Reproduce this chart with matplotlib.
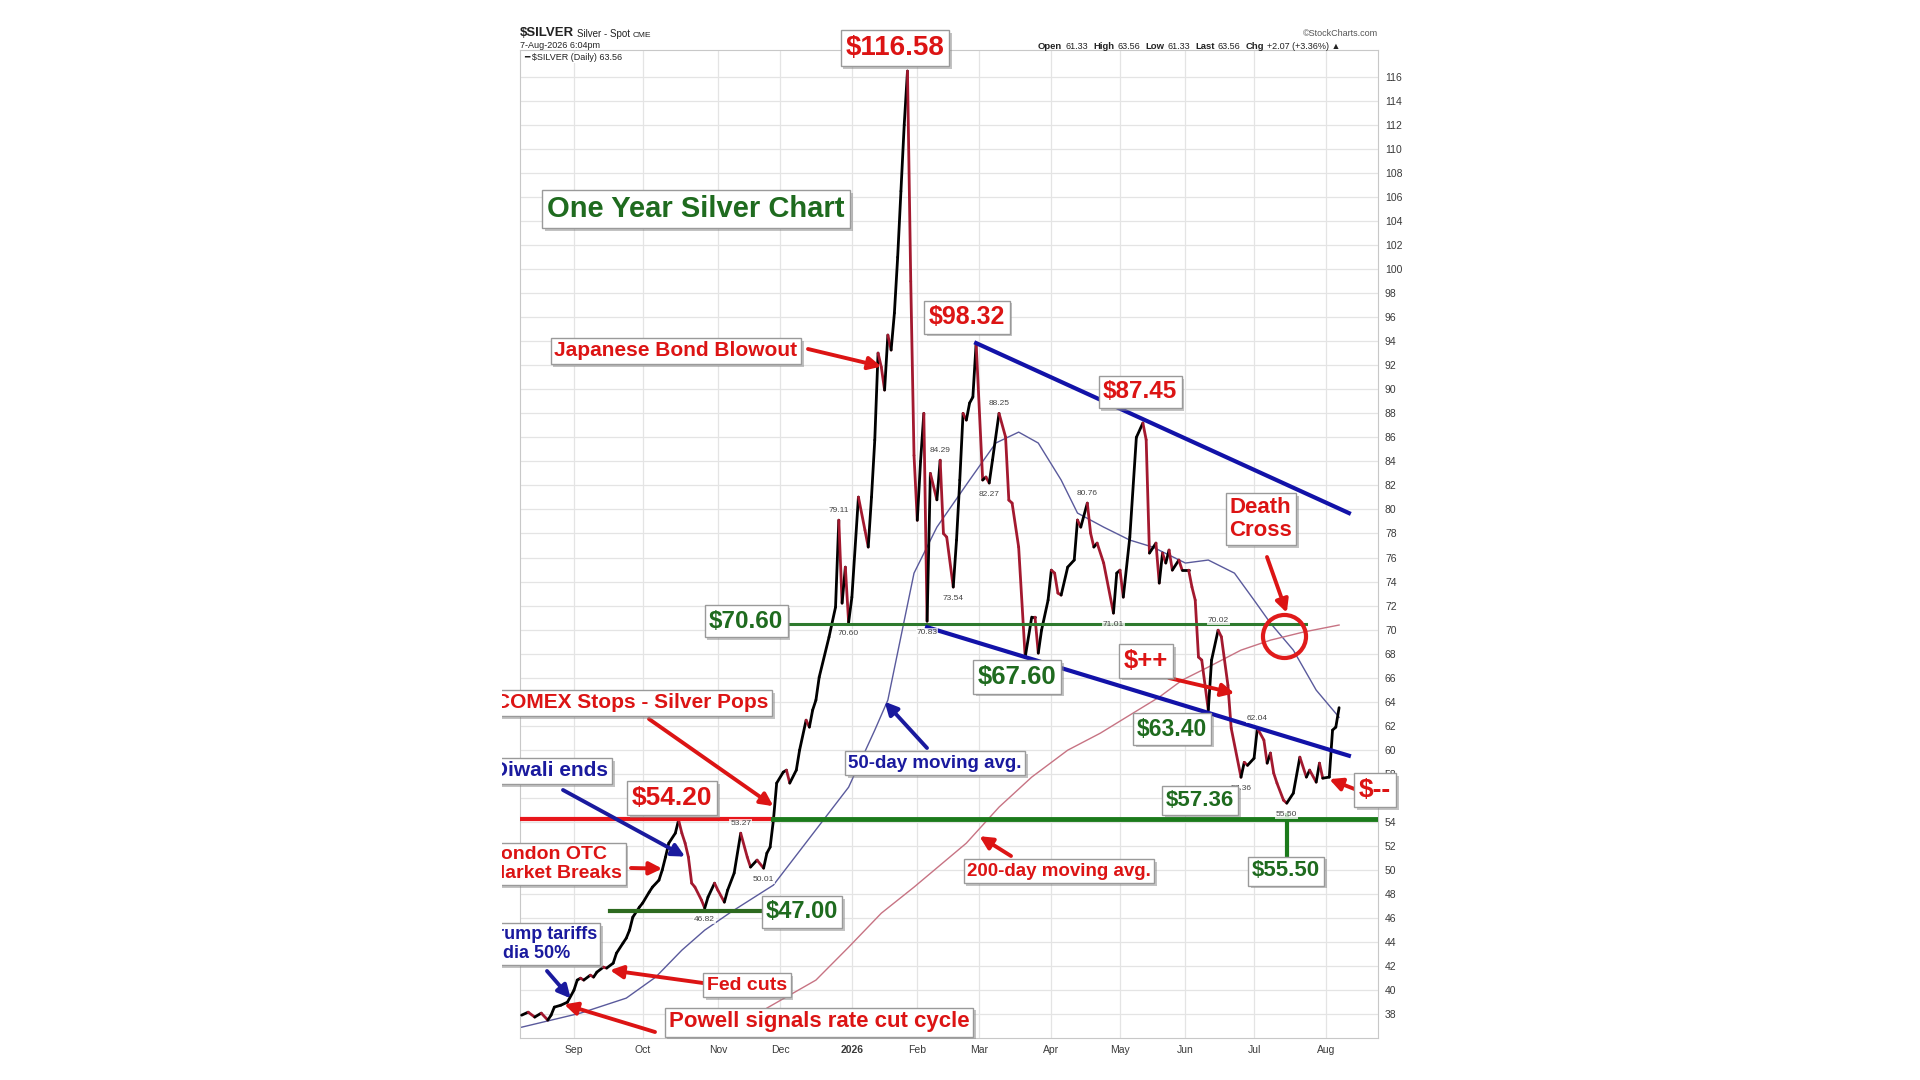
import numpy as np
import pandas as pd
import matplotlib
matplotlib.use("Agg")
import matplotlib.pyplot as plt
import matplotlib.patheffects as pe
from matplotlib.collections import LineCollection
from matplotlib.transforms import Bbox, TransformedBbox

plt.rcParams['font.family'] = ['Liberation Sans', 'DejaVu Sans']
plt.rcParams['text.parse_math'] = False

# trading calendar (exchange holidays skipped, like StockCharts)
holidays = ["2025-09-01", "2025-11-27", "2025-12-25", "2026-01-01", "2026-01-19",
            "2026-02-16", "2026-04-03", "2026-05-25", "2026-06-19", "2026-07-03"]
cal = pd.bdate_range("2025-08-08", "2026-08-31", freq="C", holidays=holidays)

month_firsts = ["2025-09-02", "2025-10-01", "2025-11-03", "2025-12-01", "2026-01-02", "2026-02-02",
                "2026-03-02", "2026-04-01", "2026-05-01", "2026-06-01", "2026-07-01", "2026-08-03"]
month_labels = ["Sep", "Oct", "Nov", "Dec", "2026", "Feb", "Mar", "Apr", "May", "Jun", "Jul", "Aug"]
y_ticks = list(range(38, 118, 2))

# daily close
price_dates = [
    "2025-08-08", "2025-08-12", "2025-08-14", "2025-08-18", "2025-08-20", "2025-08-21", "2025-08-22",
    "2025-08-26", "2025-08-28", "2025-09-02", "2025-09-03", "2025-09-04", "2025-09-05", "2025-09-09",
    "2025-09-10", "2025-09-11", "2025-09-15", "2025-09-16", "2025-09-18", "2025-09-19", "2025-09-23",
    "2025-09-24", "2025-09-25", "2025-09-26", "2025-09-30", "2025-10-01", "2025-10-03", "2025-10-06",
    "2025-10-08", "2025-10-09", "2025-10-10", "2025-10-13", "2025-10-15", "2025-10-16", "2025-10-17",
    "2025-10-20", "2025-10-21", "2025-10-22", "2025-10-23", "2025-10-27", "2025-10-28", "2025-10-29",
    "2025-10-31", "2025-11-03", "2025-11-05", "2025-11-06", "2025-11-10", "2025-11-12", "2025-11-14",
    "2025-11-17", "2025-11-19", "2025-11-21", "2025-11-24", "2025-11-25", "2025-11-26", "2025-11-28",
    "2025-12-02", "2025-12-03", "2025-12-04", "2025-12-08", "2025-12-09", "2025-12-11", "2025-12-12",
    "2025-12-15", "2025-12-16", "2025-12-17", "2025-12-22", "2025-12-24", "2025-12-26", "2025-12-29",
    "2025-12-30", "2025-12-31", "2026-01-02", "2026-01-06", "2026-01-08", "2026-01-09", "2026-01-12",
    "2026-01-13", "2026-01-14", "2026-01-15", "2026-01-16", "2026-01-20", "2026-01-21", "2026-01-22",
    "2026-01-23", "2026-01-26", "2026-01-27", "2026-01-28", "2026-01-29", "2026-01-30", "2026-02-02",
    "2026-02-03", "2026-02-04", "2026-02-05", "2026-02-06", "2026-02-10", "2026-02-11", "2026-02-12",
    "2026-02-13", "2026-02-18", "2026-02-19", "2026-02-20", "2026-02-23", "2026-02-24", "2026-02-25",
    "2026-02-26", "2026-02-27", "2026-03-03", "2026-03-04", "2026-03-05", "2026-03-06", "2026-03-10",
    "2026-03-12", "2026-03-13", "2026-03-16", "2026-03-18", "2026-03-20", "2026-03-24", "2026-03-25",
    "2026-03-26", "2026-03-27", "2026-03-31", "2026-04-01", "2026-04-02", "2026-04-06", "2026-04-07",
    "2026-04-09", "2026-04-13", "2026-04-14", "2026-04-15", "2026-04-17", "2026-04-20", "2026-04-21",
    "2026-04-22", "2026-04-24", "2026-04-29", "2026-04-30", "2026-05-01", "2026-05-04", "2026-05-06",
    "2026-05-08", "2026-05-12", "2026-05-13", "2026-05-14", "2026-05-18", "2026-05-19", "2026-05-20",
    "2026-05-21", "2026-05-22", "2026-05-26", "2026-05-28", "2026-05-29", "2026-06-02", "2026-06-03",
    "2026-06-04", "2026-06-05", "2026-06-08", "2026-06-10", "2026-06-11", "2026-06-15", "2026-06-16",
    "2026-06-18", "2026-06-22", "2026-06-25", "2026-06-26", "2026-06-29", "2026-07-01", "2026-07-02",
    "2026-07-07", "2026-07-08", "2026-07-09", "2026-07-10", "2026-07-13", "2026-07-15", "2026-07-16",
    "2026-07-20", "2026-07-22", "2026-07-24", "2026-07-27", "2026-07-29", "2026-07-30", "2026-07-31",
    "2026-08-04", "2026-08-05", "2026-08-06", "2026-08-07"]
price_vals = [
    37.9, 38.15, 37.74, 38.07, 37.49, 37.9, 38.57,
    38.73, 38.98, 39.98, 40.82, 40.98, 40.82, 41.23,
    41.07, 41.48, 41.9, 41.82, 42.23, 43.06, 43.9,
    44.31, 44.98, 46.06, 46.89, 47.23, 48.14, 48.56,
    49.14, 49.98, 51.06, 52.22, 53.05, 54.14, 53.05,
    52.22, 51.06, 48.89, 48.56, 47.48, 46.81, 47.73,
    48.89, 48.31, 47.31, 48.31, 49.73, 53.05, 51.06,
    50.23, 50.81, 50.14, 51.39, 51.89, 54.14, 57.22,
    58.13, 58.3, 57.22, 58.3, 59.96, 62.46, 61.88,
    63.3, 64.13, 66.04, 69.37, 71.87, 79.11, 72.2,
    75.2, 70.6, 72.7, 81.03, 78.28, 76.87, 81.03,
    85.78, 93.02, 91.85, 89.94, 94.52, 93.27, 96.35,
    101.0, 106.5, 112.0, 116.5, 99.0, 84.5, 79.1,
    84.0, 88.0, 70.7, 83.0, 80.8, 84.1, 78.0,
    77.7, 73.54, 77.45, 82.45, 88.0, 87.44, 88.86,
    89.36, 93.85, 82.45, 82.7, 82.2, 84.11, 88.0,
    86.03, 80.78, 80.53, 76.87, 67.7, 71.04, 71.04,
    68.04, 69.95, 72.45, 74.95, 74.7, 73.04, 72.87,
    75.2, 75.79, 79.12, 78.53, 80.53, 78.03, 76.87,
    77.2, 75.54, 71.37, 74.7, 74.95, 72.7, 77.7,
    86.0, 87.2, 85.8, 76.37, 77.2, 73.87, 76.37,
    75.54, 76.62, 74.95, 75.79, 74.95, 74.95, 73.54,
    72.45, 67.71, 67.46, 63.3, 67.46, 69.95, 69.4,
    65.37, 61.8, 57.71, 58.95, 58.7, 59.29, 61.79,
    60.8, 58.88, 59.72, 58.05, 57.22, 55.8, 55.55,
    56.38, 59.38, 57.72, 58.3, 57.3, 58.88, 57.63,
    57.72, 61.63, 61.88, 63.5]

ma50_dates = ["2025-08-08", "2025-09-04", "2025-09-24", "2025-10-07", "2025-10-17", "2025-10-28",
              "2025-11-07", "2025-11-26", "2025-12-31", "2026-01-13", "2026-01-20", "2026-01-30",
              "2026-02-10", "2026-02-25", "2026-03-09", "2026-03-18", "2026-03-26", "2026-04-07",
              "2026-04-14", "2026-04-24", "2026-05-06", "2026-05-15", "2026-06-01", "2026-06-10",
              "2026-06-23", "2026-07-01", "2026-07-09", "2026-07-20", "2026-07-29", "2026-08-07"]
ma50_vals = [36.9, 38.07, 39.32, 41.07, 43.31, 44.98,
             46.48, 48.73, 56.88, 61.63, 64.13, 74.7,
             78.53, 82.45, 85.53, 86.44, 85.53, 82.45,
             79.7, 78.53, 77.45, 76.87, 75.54, 75.79,
             74.7, 72.45, 70.54, 68.29, 64.96, 62.7]

ma200_dates = ["2025-11-10", "2025-11-24", "2025-12-16", "2025-12-31", "2026-01-15", "2026-01-30",
               "2026-02-24", "2026-03-10", "2026-03-24", "2026-04-09", "2026-04-23", "2026-05-07",
               "2026-05-19", "2026-05-29", "2026-06-10", "2026-06-25", "2026-07-09", "2026-07-23",
               "2026-08-07"]
ma200_vals = [35.9, 38.49, 40.82, 43.56, 46.39, 48.56,
              52.22, 55.22, 57.72, 59.96, 61.38, 63.05,
              64.38, 65.79, 66.88, 68.29, 69.12, 69.79,
              70.38]

# drawn lines
red_54_dates, red_54_vals = ["2025-08-08", "2025-11-26"], [54.2, 54.2]
green_54_dates, green_54_vals = ["2025-11-26", "2026-08-25"], [54.2, 54.2]
green_70_dates, green_70_vals = ["2025-12-04", "2026-07-24"], [70.5, 70.5]
green_47_dates, green_47_vals = ["2025-09-17", "2025-11-20"], [46.6, 46.6]
upper_dates, upper_vals = ["2026-02-27", "2026-08-12"], [93.85, 79.7]
lower_dates, lower_vals = ["2026-02-05", "2026-08-12"], [70.2, 59.5]
low_stem_dates, low_stem_vals = ["2026-07-16", "2026-07-16"], [54.6, 51.0]
cross_date, cross_val = "2026-07-15", 69.45

# small peak / trough labels
small_dates = ["2025-10-28", "2025-11-21", "2025-11-12", "2025-12-26", "2025-12-31", "2026-02-05",
               "2026-02-11", "2026-02-18", "2026-03-05", "2026-03-10", "2026-04-17", "2026-04-29",
               "2026-06-15", "2026-07-02", "2026-07-16", "2026-06-25"]
small_vals = [46.81, 50.14, 53.05, 79.11, 70.6, 70.7,
              84.1, 73.54, 82.2, 88.0, 80.53, 71.37,
              69.95, 61.79, 55.55, 57.71]
small_text = ["46.82", "50.01", "53.27", "79.11", "70.60", "70.83",
              "84.29", "73.54", "82.27", "88.25", "80.76", "71.01",
              "70.02", "62.04", "55.50", "57.36"]
small_above = [False, False, True, True, False, False,
               True, False, False, True, True, False,
               True, True, False, False]


def tday(dates):
    d = pd.to_datetime(pd.Index(np.atleast_1d(dates)))
    return np.searchsorted(cal.values, d.values)


RED = '#dc1414'
GREEN = '#1f6b1f'
BLUE = '#1a1a9e'

fig = plt.figure(figsize=(19.2, 10.8), dpi=100)
ax = fig.add_axes([520 / 1920, 1 - 1038 / 1080, 858 / 1920, 988 / 1080])
ax.set_xlim(-0.5, 261.9)
ax.set_ylim(36, 118.25)

ax.set_yticks(y_ticks)
ax.set_xticks(tday(month_firsts))
ax.set_xticklabels(month_labels)
ax.get_xticklabels()[4].set_fontweight('bold')
ax.yaxis.tick_right()
ax.tick_params(axis='y', length=0, pad=5, labelsize=7.5, labelcolor='#3a3a3a')
ax.tick_params(axis='x', length=0, pad=5, labelsize=7.5, labelcolor='#3a3a3a')
ax.grid(True, color='#e4e4e4', lw=0.9)
ax.set_axisbelow(True)
for s in ax.spines.values():
    s.set_color('#c8c8c8')
    s.set_linewidth(0.8)

# moving averages
ax.plot(tday(ma50_dates), ma50_vals, color='#5a5a9c', lw=1.0, zorder=2)
ax.plot(tday(ma200_dates), ma200_vals, color='#c77383', lw=1.0, zorder=2)

# price line: black on up days, maroon on down days
px = tday(price_dates)
py = np.array(price_vals)
segs = np.stack([np.column_stack([px[:-1], py[:-1]]), np.column_stack([px[1:], py[1:]])], axis=1)
seg_colors = np.where(np.diff(py) >= 0, '#000000', '#a3192f')
ax.add_collection(LineCollection(segs, colors=seg_colors, linewidths=2.0, capstyle='round', zorder=3))

# horizontal levels and trend lines
ax.plot(tday(red_54_dates), red_54_vals, color='#e8161b', lw=3, zorder=4)
ax.plot(tday(green_54_dates), green_54_vals, color='#1b7a1b', lw=3.5, zorder=4)
ax.plot(tday(green_70_dates), green_70_vals, color='#2e7a2e', lw=2.2, zorder=4)
ax.plot(tday(green_47_dates), green_47_vals, color='#2d6a1f', lw=3, zorder=4)
ax.plot(tday(upper_dates), upper_vals, color='#1212a8', lw=3, zorder=4)
ax.plot(tday(lower_dates), lower_vals, color='#1212a8', lw=3, zorder=4)
ax.plot(tday(low_stem_dates), low_stem_vals, color='#1b7a1b', lw=3, zorder=4)
ax.plot(tday(cross_date), [cross_val], marker='o', ms=31, mfc='none', mec='#e01b1b', mew=3, zorder=6)

for d, v, t, up in zip(small_dates, small_vals, small_text, small_above):
    ax.annotate(t, xy=(tday(d)[0], v), xytext=(0, 7 if up else -8), textcoords='offset points',
                ha='center', va='center', fontsize=6, color='#444444', zorder=5,
                bbox=dict(boxstyle='square,pad=0.1', fc='white', ec='none', alpha=0.75))

clip_bb = TransformedBbox(Bbox([[502 / 1920, 0], [1, 1]]), fig.transFigure)


def box(x, y, text, color, size, ha='center', clip=False, ma='center'):
    t = fig.text(x / 1920, 1 - y / 1080, text, color=color, fontsize=size, fontweight='bold',
                 ha=ha, va='center', multialignment=ma, linespacing=1.1, zorder=10,
                 bbox=dict(boxstyle='square,pad=0.18', fc='white', ec='#9a9a9a', lw=1.0))
    t.get_bbox_patch().set_path_effects(
        [pe.SimplePatchShadow(offset=(2, -2), shadow_rgbFace='#888888', alpha=0.5), pe.Normal()])
    if clip:
        t.set_clip_on(True)
        t.set_clip_box(clip_bb)
    return t


def arrow(sx, sy, date, val, color):
    ax.annotate('', xy=(tday(date)[0], val), xycoords='data',
                xytext=(sx / 1920, 1 - sy / 1080), textcoords='figure fraction',
                arrowprops=dict(arrowstyle='-|>', color=color, lw=2.8, mutation_scale=19,
                                shrinkA=0, shrinkB=0),
                annotation_clip=False, zorder=8)


# arrows
arrow(808, 349, "2026-01-15", 91.9, RED)
arrow(1267, 557, "2026-07-16", 71.4, RED)
arrow(1169, 678, "2026-06-23", 64.7, RED)
arrow(1357, 790, "2026-08-04", 57.55, RED)
arrow(649, 719, "2025-11-26", 55.3, RED)
arrow(927, 748, "2026-01-16", 64.0, BLUE)
arrow(1011, 856, "2026-03-02", 52.8, RED)
arrow(563, 790, "2025-10-20", 51.1, BLUE)
arrow(631, 868, "2025-10-09", 50.1, RED)
arrow(547, 971, "2025-08-29", 39.3, BLUE)
arrow(703, 983, "2025-09-17", 41.65, RED)
arrow(655, 1032, "2025-08-27", 38.8, RED)

# text boxes
box(895, 48, "$116.58", RED, 20)
box(696, 209, "One Year Silver Chart", GREEN, 21)
box(676, 351, "Japanese Bond Blowout", RED, 15)
box(967, 317, "$98.32", RED, 18)
box(1140, 392, "$87.45", RED, 17.5)
box(1261, 519, "Death\nCross", RED, 16, ma='left')
box(746, 621, "$70.60", GREEN, 17.5)
box(1017, 677, "$67.60", GREEN, 18.5)
box(1146, 661, "$++", RED, 18.5)
box(1172, 729, "$63.40", GREEN, 16.5)
box(1200, 800, "$57.36", GREEN, 16)
box(1286, 871, "$55.50", GREEN, 16)
box(1375, 790, "$--", RED, 19)
box(672, 798, "$54.20", RED, 19)
box(802, 912, "$47.00", GREEN, 17)
box(768, 703, "COMEX Stops - Silver Pops", RED, 15, ha='right', clip=True)
box(608, 771, "Diwali ends", BLUE, 15, ha='right', clip=True)
box(622, 864, "London OTC\nMarket Breaks", RED, 14, ha='right', clip=True, ma='left')
box(597, 944, "Trump tariffs\nIndia 50%", BLUE, 13, ha='right', clip=True, ma='left')
box(747, 985, "Fed cuts", RED, 14)
box(819, 1022, "Powell signals rate cut cycle", RED, 16)
box(935, 763, "50-day moving avg.", BLUE, 13.5)
box(1059, 871, "200-day moving avg.", RED, 13.5)


# header (StockCharts style)
def chain(items, x, y):
    prev = None
    for text, weight, size, gap in items:
        if prev is None:
            prev = ax.annotate(text, xy=(x / 1920, 1 - y / 1080), xycoords='figure fraction',
                               fontsize=size, fontweight=weight, va='bottom', ha='left',
                               color='#222222', annotation_clip=False)
        else:
            prev = ax.annotate(text, xy=(1, 0), xycoords=prev, xytext=(gap, 0), textcoords='offset points',
                               fontsize=size, fontweight=weight, va='bottom', ha='left',
                               color='#222222', annotation_clip=False)


chain([("$SILVER", 'bold', 9.5, 0), ("Silver - Spot", 'normal', 7, 2), ("CME", 'normal', 6, 2)], 520, 39)
fig.text(520 / 1920, 1 - 45 / 1080, "7-Aug-2026 6:04pm", fontsize=6.5, color='#222222', va='center')
fig.text(524 / 1920, 1 - 58 / 1080, "━ $SILVER (Daily) 63.56", fontsize=6.5, color='#222222', va='center',
         bbox=dict(boxstyle='square,pad=0.1', fc='white', ec='none'))
fig.text(1378 / 1920, 1 - 33 / 1080, "©StockCharts.com", fontsize=6.5, color='#555555', va='center', ha='right')
chain([("Open", 'bold', 6.8, 0), ("61.33", 'normal', 6.5, 2), ("High", 'bold', 6.8, 4),
       ("63.56", 'normal', 6.5, 2), ("Low", 'bold', 6.8, 4), ("61.33", 'normal', 6.5, 2),
       ("Last", 'bold', 6.8, 4), ("63.56", 'normal', 6.5, 2), ("Chg", 'bold', 6.8, 4),
       ("+2.07 (+3.36%) ▲", 'normal', 6.5, 2)], 1038, 51)

fig.savefig("out.png", dpi=100, facecolor='white')
